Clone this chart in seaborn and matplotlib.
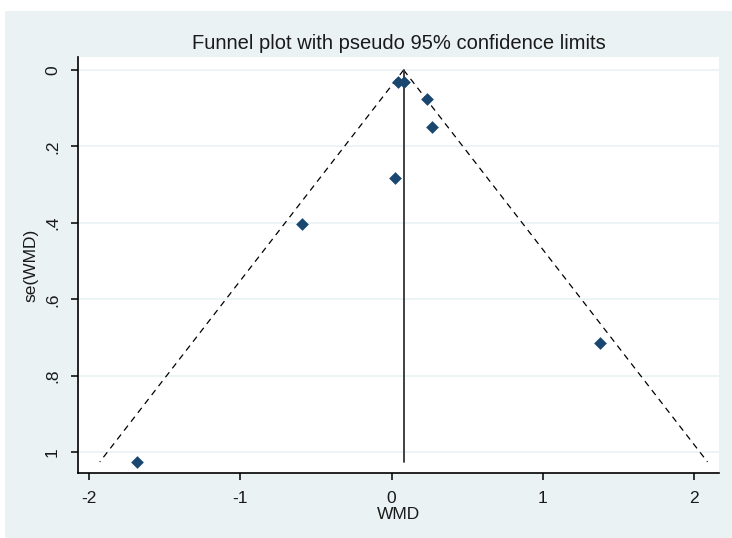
import numpy as np
import pandas as pd
import matplotlib
matplotlib.use("Agg")
import matplotlib.pyplot as plt
from matplotlib.patches import Rectangle
import seaborn as sns

# Study effects (weighted mean difference) and their standard errors
wmd = [-1.685, -0.595, 0.02, 0.042, 0.082, 0.236, 0.269, 1.381]
se_wmd = [1.025, 0.403, 0.282, 0.031, 0.031, 0.075, 0.148, 0.715]
pooled = 0.08
z95 = 1.96

x_ticks = [-2, -1, 0, 1, 2]
y_ticks = [0, 0.2, 0.4, 0.6, 0.8, 1.0]
y_tick_labels = ["0", ".2", ".4", ".6", ".8", "1"]

sns.set_theme(style="white")
plt.rcParams["font.family"] = ["Liberation Sans", "DejaVu Sans"]

PANEL = "#EAF2F3"
NAVY = "#1A476F"

fig = plt.figure(figsize=(7.32, 5.38), dpi=100, facecolor="white")
fig.patches.append(Rectangle((5 / 732, 0), 1, (538 - 11) / 538,
                             transform=fig.transFigure, facecolor=PANEL,
                             edgecolor="none", zorder=-10))
ax = fig.add_axes([78 / 732, (538 - 473) / 538, (719 - 78) / 732, (473 - 57) / 538])
ax.set_facecolor("white")

points = pd.DataFrame({"WMD": wmd, "se": se_wmd})

# Pseudo 95% confidence limits around the pooled estimate
se_max = max(se_wmd)
funnel = pd.DataFrame({
    "se": [0.0, se_max, 0.0, se_max],
    "WMD": [pooled, pooled - z95 * se_max, pooled, pooled + z95 * se_max],
    "side": ["lower", "lower", "upper", "upper"],
})

for yt in y_ticks:
    ax.axhline(yt, color=PANEL, lw=1.2, zorder=0)

for side, grp in funnel.groupby("side"):
    sns.lineplot(data=grp, x="WMD", y="se", ax=ax, color="black", lw=0.9,
                 sort=False, estimator=None, dashes=False, zorder=2)
for line in ax.get_lines()[-2:]:
    line.set_dashes([5, 4])

ax.plot([pooled, pooled], [0, se_max], color="#333333", lw=1.3, zorder=2)

sns.scatterplot(data=points, x="WMD", y="se", ax=ax, marker="D", s=42,
                color=NAVY, edgecolor=NAVY, linewidth=0, zorder=3)

ax.set_xlim(-2.073, 2.165)
ax.set_ylim(1.054, -0.034)
ax.set_xticks(x_ticks)
ax.set_xticklabels([str(t) for t in x_ticks])
ax.set_yticks(y_ticks)
ax.set_yticklabels(y_tick_labels, rotation=90, va="center")

for s in ["top", "right"]:
    ax.spines[s].set_visible(False)
for s in ["left", "bottom"]:
    ax.spines[s].set_color("black")
    ax.spines[s].set_linewidth(1.2)

ax.tick_params(axis="both", which="major", direction="out", length=5, width=1.1,
               color="black", labelsize=12.5, labelcolor="#1a1a1a",
               left=True, bottom=True, pad=8)
ax.tick_params(axis="x", pad=8)

ax.set_xlabel("WMD", fontsize=12.5, color="#1a1a1a", labelpad=1)
ax.set_ylabel("se(WMD)", fontsize=12.5, color="#1a1a1a", labelpad=5)
ax.set_title("Funnel plot with pseudo 95% confidence limits", fontsize=14.5,
             color="#1a1a1a", pad=6)

fig.savefig("out.png", dpi=100, facecolor="white")
